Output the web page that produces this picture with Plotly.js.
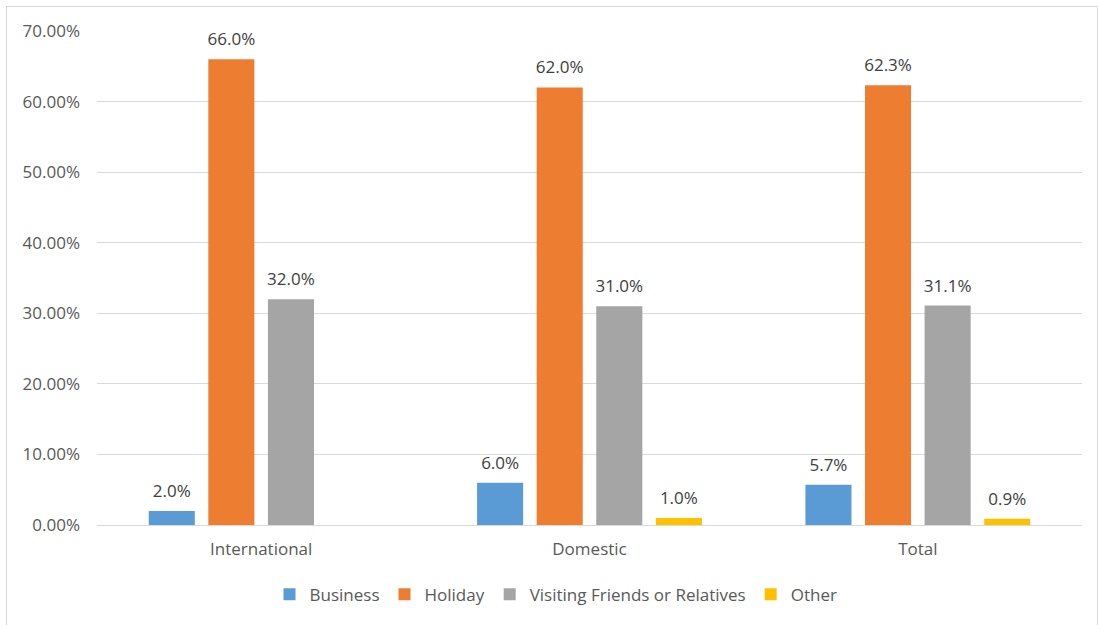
<!DOCTYPE html>
<html>
<head>
<meta charset="utf-8">
<script src="https://cdn.plot.ly/plotly-3.0.1.min.js"></script>
<style>
html,body{margin:0;padding:0;background:#fff;}
#frame{position:absolute;left:6px;top:6px;width:1092px;height:625px;border:1px solid #d9d9d9;box-sizing:border-box;}
#chart{position:absolute;left:0;top:0;width:1098px;height:625px;}
</style>
</head>
<body>
<div id="frame"></div>
<div id="chart"></div>
<script>
var categories = ["International", "Domestic", "Total"];
var business = [0.020, 0.060, 0.057];
var holiday = [0.660, 0.620, 0.623];
var vfr = [0.320, 0.310, 0.311];
var other = [0.000, 0.010, 0.009];
var businessLabels = ["2.0%", "6.0%", "5.7%"];
var holidayLabels = ["66.0%", "62.0%", "62.3%"];
var vfrLabels = ["32.0%", "31.0%", "31.1%"];
var otherLabels = ["", "1.0%", "0.9%"];
var seriesNames = ["Business", "Holiday", "Visiting Friends or Relatives", "Other"];
var colors = ["#5B9BD5", "#ED7D31", "#A5A5A5", "#FFC000"];

var font = "Open Sans, Noto Sans, sans-serif";
var vals = [business, holiday, vfr, other];
var labels = [businessLabels, holidayLabels, vfrLabels, otherLabels];
var traces = vals.map(function(v, i){
  return {
    type: "bar", x: categories, y: v, name: seriesNames[i],
    marker: {color: colors[i]}, hoverinfo: "x+y+name"
  };
});
// data labels, grouped like the bars
vals.forEach(function(v, i){
  traces.push({
    type: "scatter", mode: "text+markers", x: categories, y: v, text: labels[i],
    textposition: "top center", cliponaxis: false, showlegend: false, hoverinfo: "skip",
    marker: {size: 14, opacity: 0, color: colors[i]},
    textfont: {family: font, size: 17, color: "#404040"}
  });
});
var layout = {
  width: 1098, height: 625,
  margin: {l: 97, r: 16, t: 31, b: 96},
  paper_bgcolor: "rgba(0,0,0,0)", plot_bgcolor: "rgba(0,0,0,0)",
  barmode: "group", bargap: 0.274, bargroupgap: 0.227,
  scattermode: "group", scattergap: 0.274,
  font: {family: font, size: 17, color: "#595959"},
  xaxis: {range: [-0.5, 2.5], showgrid: false, zeroline: false, showline: false, ticks: "", ticklabelstandoff: 12,
          automargin: false, tickfont: {family: font, size: 17, color: "#595959"}},
  yaxis: {range: [0, 0.7], dtick: 0.1, tickformat: ".2%", showgrid: true, gridcolor: "#d9d9d9", gridwidth: 1,
          zeroline: true, zerolinecolor: "#d9d9d9", zerolinewidth: 1, showline: false, ticks: "", ticklabelstandoff: 16,
          automargin: false, tickfont: {family: font, size: 17, color: "#595959"}},
  showlegend: true,
  legend: {orientation: "h", x: 0.466, xanchor: "center", y: -0.141, yanchor: "middle",
           font: {family: font, size: 17, color: "#595959"}, itemwidth: 30, traceorder: "normal"}
};
Plotly.newPlot("chart", traces, layout, {displayModeBar: false, staticPlot: true});
</script>
</body>
</html>
